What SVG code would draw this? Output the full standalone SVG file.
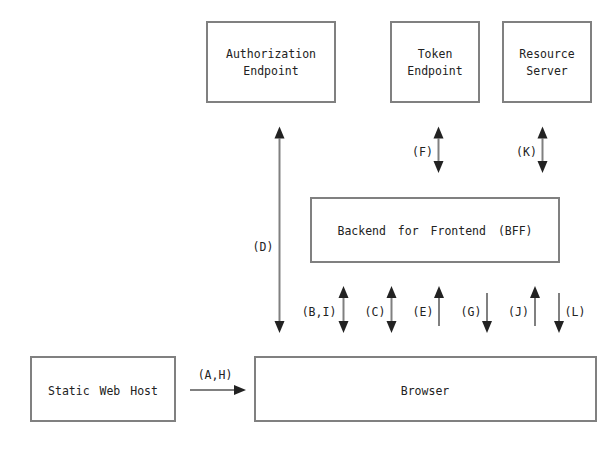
<svg xmlns="http://www.w3.org/2000/svg" width="613" height="451" viewBox="0 0 613 451">
<defs>
<marker id="ah" markerUnits="userSpaceOnUse" markerWidth="12" markerHeight="10" refX="0" refY="5" orient="auto-start-reverse" overflow="visible">
<path d="M0,0 L12,5 L0,10 z" fill="#222"/>
</marker>
<style>
.box{fill:#fff;stroke:#808080;stroke-width:2}
.t{font-family:"DejaVu Sans Mono","Liberation Mono",monospace;font-size:11.5px;fill:#222;text-anchor:middle}
.lbl{font-family:"DejaVu Sans Mono","Liberation Mono",monospace;font-size:11.5px;fill:#222;text-anchor:middle}
.c{stroke:#808080;stroke-width:2;fill:none}
.both{marker-start:url(#ah);marker-end:url(#ah)}
.one{marker-end:url(#ah)}
</style>
</defs>
<rect width="613" height="451" fill="#fff"/>
<g id="auth"><rect class="box" x="207" y="22" width="128" height="80"/><text class="t" x="271" y="58">Authorization</text><text class="t" x="271" y="75">Endpoint</text></g>
<g id="token"><rect class="box" x="391" y="22" width="88" height="80"/><text class="t" x="435" y="58">Token</text><text class="t" x="435" y="75">Endpoint</text></g>
<g id="resource"><rect class="box" x="503" y="22" width="88" height="80"/><text class="t" x="547" y="58">Resource</text><text class="t" x="547" y="75">Server</text></g>
<g id="bff"><rect class="box" x="311" y="198" width="248" height="64"/><text class="t" x="435" y="235" word-spacing="5">Backend for Frontend (BFF)</text></g>
<g id="static"><rect class="box" x="31" y="357" width="144" height="64"/><text class="t" x="103" y="395" word-spacing="3">Static Web Host</text></g>
<g id="browser"><rect class="box" x="255" y="357" width="341" height="64"/><text class="t" x="425" y="395">Browser</text></g>
<g id="connectors">
<line class="c one" x1="190" y1="390" x2="234" y2="390"/>
<text class="lbl" x="215" y="379">(A,H)</text>
<line class="c both" x1="279.5" y1="138.5" x2="279.5" y2="321"/>
<text class="lbl" x="263" y="251">(D)</text>
<line class="c both" x1="438.5" y1="138.5" x2="438.5" y2="161"/>
<text class="lbl" x="422.5" y="156">(F)</text>
<line class="c both" x1="542.5" y1="138.5" x2="542.5" y2="161"/>
<text class="lbl" x="526.5" y="156">(K)</text>
<line class="c both" x1="343.5" y1="298" x2="343.5" y2="321"/>
<text class="lbl" x="319" y="316">(B,I)</text>
<line class="c both" x1="391.5" y1="298" x2="391.5" y2="321"/>
<text class="lbl" x="375" y="316">(C)</text>
<line class="c one" x1="439" y1="326" x2="439" y2="298"/>
<text class="lbl" x="423" y="316">(E)</text>
<line class="c one" x1="487" y1="293" x2="487" y2="321"/>
<text class="lbl" x="471" y="316">(G)</text>
<line class="c one" x1="535" y1="326" x2="535" y2="298"/>
<text class="lbl" x="518.5" y="316">(J)</text>
<line class="c one" x1="559" y1="293" x2="559" y2="321"/>
<text class="lbl" x="575" y="316">(L)</text>
</g>
</svg>
